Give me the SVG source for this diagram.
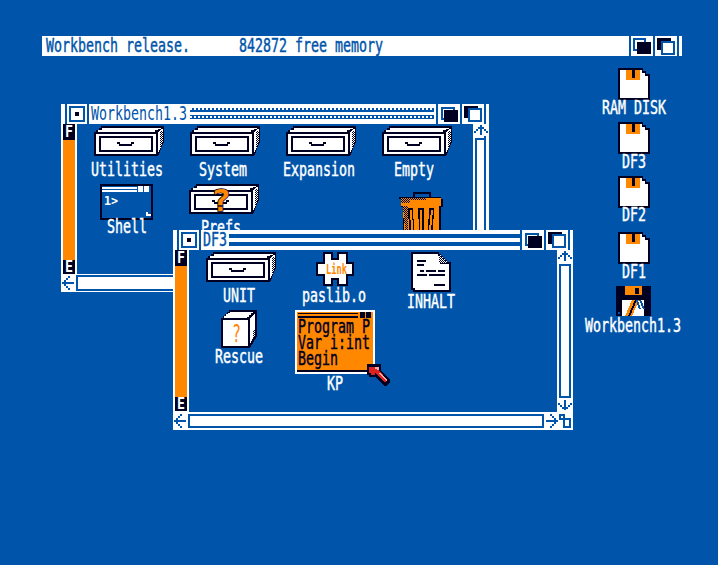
<svg xmlns="http://www.w3.org/2000/svg" xmlns:xlink="http://www.w3.org/1999/xlink" width="718" height="565" viewBox="0 0 718 565">
<style>
rect,path,polygon{shape-rendering:crispEdges}
text{font-family:"DejaVu Sans Mono","Liberation Mono",monospace;font-size:19px;stroke-width:.45px}
.l{fill:#fff;stroke:#fff}
.t{fill:#0055aa;stroke:#0055aa}
.k{fill:#000022;stroke:#000022}
.s{fill:#fff;stroke:#fff;font-size:15px;font-weight:700;stroke-width:0}
.w{fill:#fff}.b{fill:#0055aa}.o{fill:#ff8800}.n{fill:#000022}
.ln{fill:none;stroke:#0055aa;stroke-width:2}
</style>
<defs>
<pattern id="chk" width="2" height="2" patternUnits="userSpaceOnUse"><rect width="2" height="2" fill="#fff"/><rect width="1" height="1" fill="#000022"/><rect x="1" y="1" width="1" height="1" fill="#000022"/></pattern>
<pattern id="chko" width="2" height="2" patternUnits="userSpaceOnUse"><rect width="2" height="2" fill="#ff8800"/><rect width="1" height="1" fill="#000022"/><rect x="1" y="1" width="1" height="1" fill="#000022"/></pattern>
<pattern id="zig" width="4" height="4" patternUnits="userSpaceOnUse"><rect width="4" height="4" fill="#fff"/><rect width="2" height="2" fill="#0055aa"/><rect y="2" width="4" height="2" fill="#0055aa"/></pattern>
<g id="drawer">
<path class="n" d="M7,0H70V16L68,20 66,26 64,30H0V6H2V4H5V2H7Z"/>
<path class="w" d="M8,2H67V3H64V4H61V6H4V4H8Z"/>
<path class="w" d="M64,6 67,3H69V16L64,27Z"/>
<path fill="url(#chk)" d="M66,5H69V16L66,23Z"/>
<rect class="w" x="2" y="8" width="60" height="20"/><rect class="n" x="5" y="10" width="54" height="16"/><rect class="w" x="7" y="12" width="50" height="12"/>
<path class="n" d="M23,16H26V18H37V16H40V18H38V20H25V18H23Z"/>
</g>
<g id="disk">
<path class="n" d="M0,0H25V3H28V6H32V32H0Z"/>
<path class="w" d="M2,2H24V5H27V8H30V30H2Z"/>
<rect class="o" x="8" y="2" width="14" height="10"/><rect class="n" x="14" y="2" width="3" height="8"/>
</g>
<g id="close">
<rect class="w" width="20" height="20"/><rect class="b" x="2" y="2" width="16" height="16"/><rect class="w" x="4" y="4" width="12" height="12"/><rect class="n" x="8" y="8" width="4" height="4"/>
</g>
<g id="back"><rect class="w" width="22" height="20"/><rect class="ln" x="4" y="4" width="12" height="11"/><rect class="n" x="6" y="6" width="14" height="12"/></g>
<g id="front"><rect class="w" width="22" height="20"/><rect class="n" x="2" y="2" width="14" height="12"/><rect class="b" x="6" y="4" width="14" height="14"/><rect class="w" x="8" y="6" width="10" height="10"/></g>
<path id="up" class="b" d="M7,1H9V11H7ZM5,3H7V5H5ZM3,5H5V7H3ZM1,7H3V9H1ZM9,3H11V5H9ZM11,5H13V7H11ZM13,7H15V9H13Z"/>
<path id="down" class="b" d="M7,0H9V10H7ZM5,7H7V9H5ZM3,5H5V7H3ZM1,3H3V5H1ZM9,7H11V9H9ZM11,5H13V7H11ZM13,3H15V5H13Z"/>
<path id="left" class="b" d="M1,8H13V10H1ZM3,6H5V8H3ZM5,4H7V6H5ZM7,2H9V4H7ZM3,10H5V12H3ZM5,12H7V14H5ZM7,14H9V16H7Z"/>
<path id="right" class="b" d="M0,7H12V9H0ZM8,5H10V7H8ZM6,3H8V5H6ZM4,1H6V3H4ZM8,9H10V11H8ZM6,11H8V13H6ZM4,13H6V15H4Z"/>
</defs>

<rect id="screen" width="718" height="565" fill="#0055aa"/>

<g id="screen-title">
<rect class="w" x="42" y="36" width="640" height="20"/>
<rect class="b" x="629" y="36" width="2" height="20"/><rect class="b" x="653" y="36" width="2" height="20"/><rect class="b" x="677" y="36" width="2" height="20"/>
<rect class="ln" x="634" y="39" width="11" height="11"/><rect class="n" x="637" y="42" width="14" height="12"/>
<rect class="n" x="657" y="38" width="14" height="12"/><rect class="b" x="661" y="41" width="14" height="14"/><rect class="w" x="663" y="43" width="10" height="10"/>
<text class="t" x="46" y="52" textLength="144" lengthAdjust="spacingAndGlyphs">Workbench release.</text>
<text class="t" x="239" y="52" textLength="144" lengthAdjust="spacingAndGlyphs">842872 free memory</text>
</g>

<g id="window-workbench">
<rect class="w" x="61" y="104" width="428" height="20"/>
<rect class="w" x="61" y="124" width="16" height="168"/>
<rect class="o" x="63" y="124" width="12" height="150"/>
<rect class="n" x="63" y="124" width="12" height="16"/><rect class="n" x="63" y="260" width="12" height="14"/>
<text class="s" x="65" y="137" textLength="8" lengthAdjust="spacingAndGlyphs">F</text>
<text class="s" x="65" y="272" textLength="8" lengthAdjust="spacingAndGlyphs">E</text>
<rect class="b" x="65" y="104" width="2" height="20"/>
<use xlink:href="#close" x="67" y="104"/>
<rect class="b" x="87" y="104" width="2" height="20"/>
<text x="91" y="120" fill="#0055aa" textLength="96" lengthAdjust="spacingAndGlyphs">Workbench1.3</text>
<rect x="190" y="108" width="244" height="4" fill="url(#zig)"/><rect x="190" y="115" width="244" height="4" fill="url(#zig)"/>
<rect class="b" x="436" y="104" width="2" height="20"/><use xlink:href="#back" x="438" y="104"/>
<rect class="b" x="460" y="104" width="2" height="20"/><use xlink:href="#front" x="462" y="104"/>
<rect class="b" x="484" y="104" width="2" height="20"/>
<rect class="w" x="473" y="124" width="16" height="106"/><rect class="b" x="484" y="136" width="2" height="94"/>
<use xlink:href="#up" x="473" y="124"/>
<rect class="b" x="475" y="138" width="11" height="92"/><rect class="w" x="477" y="140" width="7" height="90"/>
<rect class="w" x="61" y="274" width="112" height="18"/>
<use xlink:href="#left" x="61" y="274"/>
<rect class="b" x="76" y="275" width="97" height="16"/><rect class="w" x="78" y="277" width="95" height="12"/>
</g>

<g id="icon-utilities"><use xlink:href="#drawer" x="94" y="126"/><text class="l" x="91" y="176" textLength="72" lengthAdjust="spacingAndGlyphs">Utilities</text></g>
<g id="icon-system"><use xlink:href="#drawer" x="190" y="126"/><text class="l" x="199" y="176" textLength="48" lengthAdjust="spacingAndGlyphs">System</text></g>
<g id="icon-expansion"><use xlink:href="#drawer" x="286" y="126"/><text class="l" x="283" y="176" textLength="72" lengthAdjust="spacingAndGlyphs">Expansion</text></g>
<g id="icon-empty"><use xlink:href="#drawer" x="382" y="126"/><text class="l" x="394" y="176" textLength="40" lengthAdjust="spacingAndGlyphs">Empty</text></g>
<g id="icon-shell">
<rect class="n" x="100" y="184" width="53" height="36"/><rect class="b" x="102" y="186" width="49" height="32"/>
<rect class="w" x="102" y="187" width="35" height="2"/><rect class="w" x="102" y="190" width="35" height="2"/>
<rect class="w" x="138" y="186" width="5" height="6"/><rect class="w" x="144" y="186" width="5" height="6"/>
<rect class="w" x="146" y="212" width="5" height="4"/><rect class="b" x="148" y="212" width="3" height="2"/>
<text x="104" y="205" fill="#fff" style="font-size:12px;font-weight:700" textLength="14" lengthAdjust="spacingAndGlyphs">1&gt;</text>
<text class="l" x="107" y="233" textLength="40" lengthAdjust="spacingAndGlyphs">Shell</text>
</g>
<g id="icon-prefs">
<use xlink:href="#drawer" x="189" y="184"/>
<text x="211" y="211" fill="#ff8800" stroke="#000022" paint-order="stroke" style="font-size:31px;font-weight:700;stroke-width:1.5px" textLength="20" lengthAdjust="spacingAndGlyphs">?</text>
<text class="l" x="201" y="234" textLength="40" lengthAdjust="spacingAndGlyphs">Prefs</text>
</g>
<g id="icon-trash">
<path class="n" d="M413,197V192H431V197H441V199H443V207H441V230H403V207H401V199H399V197ZM415,194V197H429V194Z"/>
<rect class="o" x="401" y="198" width="40" height="8"/>
<path fill="url(#chko)" d="M401,198H426V200H410V203H401Z"/>
<path class="o" d="M403,206H439V230H404Z"/>
<path fill="url(#chko)" d="M403,206H408V230H405Z"/>
<path class="n" d="M408,208H413L414,230H409ZM418,208H424V230H419ZM429,208H434L433,230H428Z"/>
<path class="o" d="M410,210H412L413,230H411ZM420,210H422V230H420ZM431,210H433L431,230H429Z"/>
</g>

<g id="window-df3">
<rect class="w" x="173" y="230" width="400" height="20"/>
<rect class="w" x="173" y="250" width="16" height="180"/>
<rect class="o" x="175" y="250" width="12" height="161"/>
<rect class="n" x="175" y="250" width="12" height="16"/><rect class="n" x="175" y="397" width="12" height="14"/>
<text class="s" x="177" y="263" textLength="8" lengthAdjust="spacingAndGlyphs">F</text>
<text class="s" x="177" y="409" textLength="8" lengthAdjust="spacingAndGlyphs">E</text>
<rect class="b" x="177" y="230" width="2" height="20"/>
<use xlink:href="#close" x="179" y="230"/>
<rect class="b" x="199" y="230" width="2" height="20"/>
<text class="t" x="203" y="246" textLength="24" lengthAdjust="spacingAndGlyphs">DF3</text>
<rect class="b" x="229" y="234" width="291" height="4"/><rect class="b" x="229" y="242" width="291" height="4"/>
<rect class="b" x="520" y="230" width="2" height="20"/><use xlink:href="#back" x="522" y="230"/>
<rect class="b" x="544" y="230" width="2" height="20"/><use xlink:href="#front" x="546" y="230"/>
<rect class="b" x="568" y="230" width="2" height="20"/>
<rect class="w" x="557" y="250" width="16" height="180"/>
<use xlink:href="#up" x="557" y="250"/>
<rect class="b" x="559" y="264" width="12" height="134"/><rect class="w" x="561" y="266" width="8" height="130"/>
<use xlink:href="#down" x="557" y="400"/>
<rect class="w" x="173" y="412" width="400" height="18"/>
<use xlink:href="#left" x="173" y="412"/>
<rect class="b" x="188" y="414" width="356" height="14"/><rect class="w" x="190" y="416" width="352" height="10"/>
<use xlink:href="#right" x="546" y="413"/>
<rect class="ln" x="560" y="415" width="4" height="4"/><rect class="ln" x="564" y="419" width="6" height="8"/>
</g>

<g id="icon-unit"><use xlink:href="#drawer" x="206" y="252"/><text class="l" x="223" y="302" textLength="32" lengthAdjust="spacingAndGlyphs">UNIT</text></g>
<g id="icon-paslib">
<path class="w" stroke="#000022" stroke-width="2" d="M324,253H332V259H338V253H347V263H353V275H347V285H338V279H332V285H324V275H317V263H324Z"/>
<text x="326" y="274" fill="#ff8800" style="font-size:14px;font-weight:700" textLength="21" lengthAdjust="spacingAndGlyphs">Link</text>
<text class="l" x="302" y="302" textLength="64" lengthAdjust="spacingAndGlyphs">paslib.o</text>
</g>
<g id="icon-inhalt">
<path class="n" d="M411,252H439V254H441V256H443V258H445V260H447V262H451V292H413V290H411Z"/>
<path class="w" d="M413,254H438V256H440V264H449V290H415V288H413Z"/>
<path fill="url(#chk)" d="M439,255H441V257H443V259H445V261H447V263H439Z"/>
<rect class="n" x="417" y="260" width="9" height="2"/><rect class="n" x="417" y="264" width="7" height="2"/>
<rect class="n" x="420" y="270" width="4" height="2"/><rect class="n" x="426" y="270" width="10" height="2"/><rect class="n" x="438" y="270" width="7" height="2"/>
<rect class="n" x="417" y="274" width="10" height="2"/><rect class="n" x="429" y="274" width="16" height="2"/>
<rect class="n" x="434" y="284" width="11" height="2"/>
<text class="l" x="407" y="308" textLength="48" lengthAdjust="spacingAndGlyphs">INHALT</text>
</g>
<g id="icon-rescue">
<path class="n" d="M229,310H257V336L250,348H221V318H223V316H225V314H227V312H229Z"/>
<path class="w" d="M230,312H253V313H251V315H249V317H247V318H224V316H226V314H228V313H230Z"/>
<path class="w" d="M250,318 255,313V335L250,344Z"/>
<path fill="url(#chk)" d="M253,330H255V335L253,339Z"/>
<rect class="w" x="223" y="320" width="25" height="26"/>
<text x="232" y="342" fill="#ff8800" style="font-size:24px" textLength="9" lengthAdjust="spacingAndGlyphs">?</text>
<text class="l" x="215" y="363" textLength="48" lengthAdjust="spacingAndGlyphs">Rescue</text>
</g>
<g id="icon-kp">
<rect class="w" x="295" y="310" width="80" height="64"/>
<rect class="o" x="297" y="312" width="76" height="60"/>
<rect class="n" x="298" y="313" width="60" height="1"/><rect class="n" x="298" y="316" width="60" height="2"/>
<rect class="n" x="360" y="312" width="5" height="6"/><rect class="n" x="366" y="312" width="5" height="6"/>
<rect class="n" x="297" y="370" width="76" height="2"/>
<text class="k" x="298" y="333" textLength="72" lengthAdjust="spacingAndGlyphs">Program P</text>
<text class="k" x="298" y="349" textLength="72" lengthAdjust="spacingAndGlyphs">Var i:int</text>
<text class="k" x="298" y="365" textLength="40" lengthAdjust="spacingAndGlyphs">Begin</text>
<text class="l" x="327" y="390" textLength="16" lengthAdjust="spacingAndGlyphs">KP</text>
</g>
<g id="pointer">
<path class="n" d="M367,364H381V370L390,380V383L386,386H384L375,377H369V375H367Z"/>
<path fill="#dd2222" d="M369,367H379V370L387,380 385,383 375,373V375H371V373H369Z"/>
<path fill="#ffaaaa" d="M375,367H379V370H377V369H375ZM380,372 387,380 386,381 379,373Z"/>
</g>

<g id="disk-ram"><use xlink:href="#disk" x="618" y="68"/><text class="l" x="602" y="114" textLength="64" lengthAdjust="spacingAndGlyphs">RAM DISK</text></g>
<g id="disk-df3"><use xlink:href="#disk" x="618" y="122"/><text class="l" x="622" y="168" textLength="24" lengthAdjust="spacingAndGlyphs">DF3</text></g>
<g id="disk-df2"><use xlink:href="#disk" x="618" y="176"/><text class="l" x="622" y="221" textLength="24" lengthAdjust="spacingAndGlyphs">DF2</text></g>
<g id="disk-df1"><use xlink:href="#disk" x="618" y="232"/><text class="l" x="622" y="278" textLength="24" lengthAdjust="spacingAndGlyphs">DF1</text></g>
<g id="disk-wb">
<rect class="n" x="616" y="286" width="35" height="30"/>
<rect class="o" x="625" y="286" width="17" height="9"/><rect class="n" x="635" y="288" width="4" height="6"/>
<rect class="w" x="622" y="300" width="22" height="16"/>
<path class="o" d="M632,300H635L628,316H625Z"/><path class="n" d="M635,300H637L630,316H628Z"/><path class="o" d="M637,300H639L632,316H630Z"/>
<path class="b" d="M639,300H641L645,309H643ZM636,300H638L641,309H639Z"/>
<rect class="b" x="618" y="312" width="2" height="2"/>
<text class="l" x="585" y="332" textLength="96" lengthAdjust="spacingAndGlyphs">Workbench1.3</text>
</g>
</svg>
